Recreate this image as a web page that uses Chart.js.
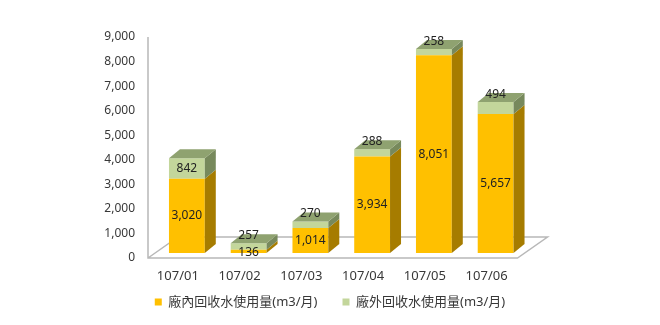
<!DOCTYPE html>
<html>
<head>
<meta charset="utf-8">
<script src="https://cdn.jsdelivr.net/npm/chart.js@4"></script>
<style>
  html, body { margin: 0; padding: 0; background: #fff; }
</style>
</head>
<body>
<canvas id="chart" width="660" height="325"></canvas>
<script>
// values
const months = ['107/01', '107/02', '107/03', '107/04', '107/05', '107/06'];
const insideUse = [3020, 136, 1014, 3934, 8051, 5657];
const outsideUse = [842, 257, 270, 288, 258, 494];
const seriesNames = ['廠內回收水使用量(m3/月)', '廠外回收水使用量(m3/月)'];
const yMax = 9000;
const yStep = 1000;

// 3d look: depth offset and face colours (front, top, side)
const DX = 11, DY = 9;
const faces = [
  { front: '#FFC000', top: '#D9A300', side: '#A67C00' },
  { front: '#C3D69B', top: '#8FA270', side: '#77895C' }
];

Chart.defaults.font.family = '"Noto Sans", "Noto Sans CJK TC", sans-serif';
Chart.defaults.font.size = 12;
Chart.defaults.color = '#383838';

const box3d = {
  id: 'box3d',
  beforeDatasetsDraw(chart) {
    // floor and wall outline
    const { ctx, chartArea: a, scales } = chart;
    const y0 = scales.y.getPixelForValue(0) + 5;
    const yTop = scales.y.getPixelForValue(yMax) + 5;
    const left = a.left - 8, right = a.right - 9;
    ctx.save();
    ctx.strokeStyle = '#B8B8B8';
    ctx.lineWidth = 1.5;
    ctx.beginPath();
    ctx.moveTo(left, yTop);
    ctx.lineTo(left, y0);
    ctx.lineTo(right, y0);
    ctx.lineTo(right + 30, y0 - 21);
    ctx.lineTo(left + 30, y0 - 21);
    ctx.lineTo(left, y0);
    ctx.stroke();
    ctx.restore();
  },
  afterDatasetsDraw(chart) {
    const { ctx } = chart;
    const n = chart.data.datasets.length;
    ctx.save();
    for (let i = 0; i < n; i++) {
      const meta = chart.getDatasetMeta(i);
      meta.data.forEach(bar => {
        const { x, y, base, width } = bar.getProps(['x', 'y', 'base', 'width'], true);
        const L = x - width / 2, R = x + width / 2;
        ctx.fillStyle = faces[i].side;
        ctx.beginPath();
        ctx.moveTo(R, base);
        ctx.lineTo(R + DX, base - DY);
        ctx.lineTo(R + DX, y - DY);
        ctx.lineTo(R, y);
        ctx.closePath();
        ctx.fill();
        if (i === n - 1) {
          ctx.fillStyle = faces[i].top;
          ctx.beginPath();
          ctx.moveTo(L, y);
          ctx.lineTo(R, y);
          ctx.lineTo(R + DX, y - DY);
          ctx.lineTo(L + DX, y - DY);
          ctx.closePath();
          ctx.fill();
        }
      });
    }
    // value labels
    ctx.font = '12px "Noto Sans", sans-serif';
    ctx.fillStyle = '#222';
    ctx.textAlign = 'center';
    ctx.textBaseline = 'middle';
    for (let i = 0; i < n; i++) {
      const meta = chart.getDatasetMeta(i);
      const vals = chart.data.datasets[i].data;
      meta.data.forEach((bar, j) => {
        const { x, y, base } = bar.getProps(['x', 'y', 'base'], true);
        let cy = (y + base) / 2;
        if (base - y < 14) cy = i === n - 1 ? y - 7.5 : base;
        ctx.fillText(vals[j].toLocaleString('en-US'), x, cy);
      });
    }
    ctx.restore();
  }
};

new Chart(document.getElementById('chart'), {
  type: 'bar',
  data: {
    labels: months,
    datasets: [
      { label: seriesNames[0], data: insideUse, backgroundColor: faces[0].front, borderWidth: 0 },
      { label: seriesNames[1], data: outsideUse, backgroundColor: faces[1].front, borderWidth: 0 }
    ]
  },
  options: {
    responsive: false,
    animation: false,
    devicePixelRatio: 1,
    layout: { padding: { top: 32, bottom: 14.5, left: 0, right: 0 } },
    datasets: { bar: { categoryPercentage: 1, barPercentage: 0.58 } },
    scales: {
      x: {
        stacked: true,
        grid: { display: false, drawTicks: false },
        border: { display: false },
        // mirror keeps the labels from being clipped to the short axis box
        ticks: { mirror: true, padding: -31.2, labelOffset: -9, font: { size: 13 } },
        afterFit(s) { s.height = 17.5; }
      },
      y: {
        stacked: true,
        min: 0,
        max: yMax,
        grid: { display: false, drawTicks: false },
        border: { display: false },
        ticks: {
          stepSize: yStep,
          padding: 21,
          labelOffset: 5,
          callback: v => v.toLocaleString('en-US')
        },
        afterFit(s) { s.width = 156; }
      },
      yRight: {
        position: 'right',
        min: 0,
        max: yMax,
        grid: { display: false, drawTicks: false },
        border: { display: false },
        ticks: { display: false },
        afterFit(s) { s.width = 133.5; }
      }
    },
    plugins: {
      legend: {
        position: 'bottom',
        maxHeight: 40,
        labels: { boxWidth: 7, boxHeight: 7, padding: 25, font: { size: 13 } }
      },
      tooltip: { enabled: false }
    }
  },
  plugins: [box3d]
});
</script>
</body>
</html>
